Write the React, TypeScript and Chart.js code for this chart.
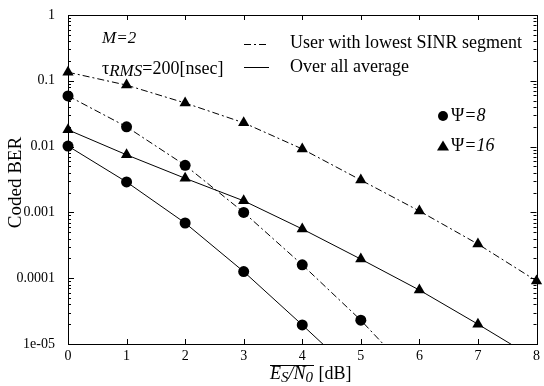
import React, { useEffect, useRef } from "react";
import { Chart, registerables } from "chart.js";

Chart.register(...registerables);

const snrDb = [0, 1, 2, 3, 4, 5, 6, 7, 8];
const lowestPsi16 = [0.135, 0.086, 0.046, 0.023, 0.0092, 0.0031, 0.00105, 0.00033, 0.000091];
const lowestPsi8 = [0.059, 0.02, 0.0052, 0.001, 0.00016, 0.000023, 0.0000026];
const averagePsi16 = [0.018, 0.0075, 0.0033, 0.0015, 0.00056, 0.000195, 0.000066, 0.00002, 0.0000058];
const averagePsi8 = [0.0102, 0.0029, 0.00069, 0.000126, 0.0000195, 0.0000029];
const yTickValues = [1, 0.1, 0.01, 0.001, 0.0001, 0.00001];
const yTickLabels = ["1", "0.1", "0.01", "0.001", "0.0001", "1e-05"];
const xTickValues = [0, 1, 2, 3, 4, 5, 6, 7, 8];

const SERIF = "'Liberation Serif', 'DejaVu Serif', serif";
const DASH_DOT = [7, 3, 2, 3];

function toPoints(vals: number[]) {
  return vals.map((v, i) => ({ x: snrDb[i], y: v }));
}
function radii(vals: number[], r: number) {
  return vals.map((v) => (v < 0.00001 ? 0 : r));
}

const decorPlugin = {
  id: "decor",
  afterDraw(chart: any) {
    const ctx = chart.ctx as CanvasRenderingContext2D;
    const area = chart.chartArea;
    const xs = chart.scales.x;
    const ys = chart.scales.y;
    ctx.save();
    ctx.strokeStyle = "#000";
    ctx.fillStyle = "#000";
    ctx.lineWidth = 1;
    ctx.setLineDash([]);
    // frame
    ctx.strokeRect(Math.round(area.left) + 0.5, Math.round(area.top) + 0.5, Math.round(area.right - area.left), Math.round(area.bottom - area.top));
    // x ticks (inward, bottom and top)
    ctx.beginPath();
    xTickValues.forEach((v) => {
      const px = Math.round(xs.getPixelForValue(v)) + 0.5;
      ctx.moveTo(px, area.bottom);
      ctx.lineTo(px, area.bottom - 5);
      ctx.moveTo(px, area.top);
      ctx.lineTo(px, area.top + 5);
    });
    // y ticks major and minor
    for (let e = -5; e <= 0; e++) {
      const base = Math.pow(10, e);
      const py = Math.round(ys.getPixelForValue(base)) + 0.5;
      ctx.moveTo(area.left, py);
      ctx.lineTo(area.left + 6, py);
      ctx.moveTo(area.right, py);
      ctx.lineTo(area.right - 6, py);
      if (e < 0) {
        for (let m = 2; m <= 9; m++) {
          const pm = Math.round(ys.getPixelForValue(base * m)) + 0.5;
          ctx.moveTo(area.left, pm);
          ctx.lineTo(area.left + 3, pm);
          ctx.moveTo(area.right, pm);
          ctx.lineTo(area.right - 3, pm);
        }
      }
    }
    ctx.stroke();

    // y title
    ctx.save();
    ctx.translate(16, (area.top + area.bottom) / 2 + 3);
    ctx.rotate(-Math.PI / 2);
    ctx.font = `19px ${SERIF}`;
    ctx.textAlign = "center";
    ctx.textBaseline = "middle";
    ctx.fillText("Coded BER", 0, 0);
    ctx.restore();

    // x title: overline(Es/N0) [dB]
    ctx.textBaseline = "alphabetic";
    ctx.textAlign = "left";
    const baseY = 379;
    let cx = 270;
    const big = `italic 18px ${SERIF}`;
    const small = `italic 15px ${SERIF}`;
    const startX = cx;
    ctx.font = big; ctx.fillText("E", cx, baseY); cx += ctx.measureText("E").width;
    ctx.font = small; ctx.fillText("S", cx, baseY + 3); cx += ctx.measureText("S").width;
    ctx.font = big; ctx.fillText("/N", cx, baseY); cx += ctx.measureText("/N").width;
    ctx.font = small; ctx.fillText("0", cx, baseY + 3); cx += ctx.measureText("0").width;
    ctx.beginPath();
    ctx.moveTo(startX, 365.5);
    ctx.lineTo(cx + 1, 365.5);
    ctx.stroke();
    ctx.font = `18px ${SERIF}`;
    ctx.fillText(" [dB]", cx + 1, baseY);

    // annotations
    ctx.font = `italic 17px ${SERIF}`;
    ctx.textBaseline = "alphabetic";
    ctx.fillText("M=2", 102, 43);
    let tx = 102;
    ctx.font = `18px ${SERIF}`;
    ctx.fillText("τ", tx, 74); tx += ctx.measureText("τ").width;
    ctx.font = `italic 17px ${SERIF}`;
    ctx.fillText("RMS", tx, 76); tx += ctx.measureText("RMS").width;
    ctx.font = `18px ${SERIF}`;
    ctx.fillText("=200[nsec]", tx, 74);

    // line legend
    ctx.beginPath();
    ctx.setLineDash(DASH_DOT);
    ctx.moveTo(244, 44.5);
    ctx.lineTo(269, 44.5);
    ctx.stroke();
    ctx.setLineDash([]);
    ctx.beginPath();
    ctx.moveTo(244, 67.5);
    ctx.lineTo(269, 67.5);
    ctx.stroke();
    ctx.textBaseline = "middle";
    ctx.font = `18px ${SERIF}`;
    ctx.fillText("User with lowest SINR segment", 290, 43);
    ctx.fillText("Over all average", 290, 67);

    // marker legend
    ctx.beginPath();
    ctx.arc(443, 116, 5, 0, Math.PI * 2);
    ctx.fill();
    ctx.beginPath();
    ctx.moveTo(443, 140.5);
    ctx.lineTo(449, 150.5);
    ctx.lineTo(437, 150.5);
    ctx.closePath();
    ctx.fill();
    let px = 451;
    ctx.font = `18px ${SERIF}`;
    ctx.fillText("Ψ", px, 116); px += ctx.measureText("Ψ").width;
    ctx.font = `italic 18px ${SERIF}`;
    ctx.fillText("=8", px, 116);
    px = 451;
    ctx.font = `18px ${SERIF}`;
    ctx.fillText("Ψ", px, 146); px += ctx.measureText("Ψ").width;
    ctx.font = `italic 18px ${SERIF}`;
    ctx.fillText("=16", px, 146);
    ctx.restore();
  },
};

export default function App() {
  const ref = useRef<HTMLCanvasElement>(null);
  useEffect(() => {
    if (!ref.current) return;
    const common = {
      borderColor: "#000",
      backgroundColor: "#000",
      borderWidth: 1,
      pointBorderWidth: 0,
      showLine: true,
      tension: 0,
      clip: { left: false, right: false, top: false, bottom: 0 } as any,
    };
    const chart = new Chart(ref.current, {
      type: "scatter",
      data: {
        datasets: [
          { ...common, label: "lowest Ψ=16", data: toPoints(lowestPsi16), borderDash: DASH_DOT, pointStyle: "triangle", pointRadius: radii(lowestPsi16, 6.5) },
          { ...common, label: "lowest Ψ=8", data: toPoints(lowestPsi8), borderDash: DASH_DOT, pointStyle: "circle", pointRadius: radii(lowestPsi8, 5.5) },
          { ...common, label: "average Ψ=16", data: toPoints(averagePsi16), pointStyle: "triangle", pointRadius: radii(averagePsi16, 6.5) },
          { ...common, label: "average Ψ=8", data: toPoints(averagePsi8), pointStyle: "circle", pointRadius: radii(averagePsi8, 5.5) },
        ] as any,
      },
      options: {
        animation: false,
        responsive: false,
        events: [],
        layout: { padding: { left: 8, right: 3, top: 15, bottom: 0 } },
        plugins: { legend: { display: false }, tooltip: { enabled: false } },
        scales: {
          x: {
            type: "linear",
            min: 0,
            max: 8,
            grid: { display: false, drawTicks: false },
            border: { display: false },
            afterBuildTicks: (s: any) => { s.ticks = xTickValues.map((v) => ({ value: v })); },
            afterFit: (s: any) => { s.height = 42; },
            ticks: { color: "#000", font: { family: SERIF, size: 14 }, padding: 4, callback: (v: any) => String(v) },
          },
          y: {
            type: "logarithmic",
            min: 0.00001,
            max: 1,
            grid: { display: false },
            border: { display: false },
            afterBuildTicks: (s: any) => { s.ticks = yTickValues.map((v) => ({ value: v })); },
            afterFit: (s: any) => { s.width = 60; },
            ticks: {
              color: "#000",
              font: { family: SERIF, size: 14 },
              padding: 5,
              callback: (v: any) => {
                const i = yTickValues.findIndex((t) => Math.abs(Math.log10(t) - Math.log10(v)) < 1e-6);
                return i >= 0 ? yTickLabels[i] : "";
              },
            },
          },
        },
      } as any,
      plugins: [decorPlugin],
    });
    return () => chart.destroy();
  }, []);
  return (
    <div style={{ position: "absolute", left: 0, top: 0, width: 544, height: 386, background: "#fff" }}>
      <canvas ref={ref} width={544} height={386} style={{ width: 544, height: 386, display: "block" }} />
    </div>
  );
}
